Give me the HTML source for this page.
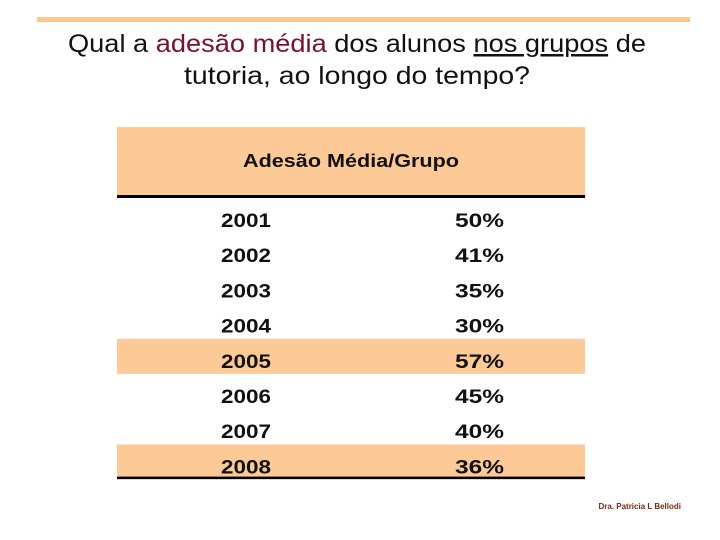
<!DOCTYPE html>
<html><head><meta charset="utf-8"><style>
html,body{margin:0;padding:0;background:#fff;}
svg{display:block;}
text{font-family:"Liberation Sans","DejaVu Sans",sans-serif;}
</style></head><body>
<svg id="s" width="720" height="540" viewBox="0 0 720 540" xmlns="http://www.w3.org/2000/svg">
<rect x="37" y="17" width="653" height="5" fill="#fbc891"/>
<text x="357" y="52" font-size="25" text-anchor="middle" textLength="578" lengthAdjust="spacingAndGlyphs" fill="#111">Qual a <tspan fill="#7a1030">adesão média</tspan> dos alunos <tspan text-decoration="underline">nos grupos</tspan> de</text>
<text x="357" y="84" font-size="25" text-anchor="middle" textLength="346" lengthAdjust="spacingAndGlyphs" fill="#111">tutoria, ao longo do tempo?</text>
<rect x="117" y="127" width="468" height="69" fill="#fdca97"/>
<text x="351" y="167" font-size="18" font-weight="bold" text-anchor="middle" textLength="216" lengthAdjust="spacingAndGlyphs" fill="#111">Adesão Média/Grupo</text>
<rect x="117" y="195" width="468" height="3" fill="#000"/>
<g id="rows"></g>
<text x="681" y="509" font-size="8" text-anchor="end" fill="#7a2a10" font-weight="bold">Dra. Patricia L Bellodi</text>
</svg>
<script>
const years = ["2001","2002","2003","2004","2005","2006","2007","2008"];
const values = [50,41,35,30,57,45,40,36];
const highlighted = [false,false,false,false,true,false,false,true];
const g = document.getElementById('rows');
const NS = "http://www.w3.org/2000/svg";
const rowTop = 202, rowH = 35.2;
years.forEach((y,i)=>{
  const top = rowTop + i*rowH;
  if (highlighted[i]) {
    const r = document.createElementNS(NS,'rect');
    
    
    r.setAttribute('x',117); r.setAttribute('y',top-4); r.setAttribute('width',468); r.setAttribute('height',35);
    r.setAttribute('fill','#fdca97');
    g.appendChild(r);
  }
  const t1 = document.createElementNS(NS,'text');
  
  
  t1.setAttribute('x',221); t1.setAttribute('y',top+25);
  t1.setAttribute('font-size',19); t1.setAttribute('font-weight','bold'); t1.setAttribute('fill','#111');
  t1.setAttribute('textLength',50); t1.setAttribute('lengthAdjust','spacingAndGlyphs');
  t1.textContent = y; g.appendChild(t1);
  const t2 = document.createElementNS(NS,'text');
  
  
  t2.setAttribute('x',455); t2.setAttribute('y',top+25);
  t2.setAttribute('font-size',19); t2.setAttribute('font-weight','bold'); t2.setAttribute('fill','#111');
  t2.setAttribute('textLength',49); t2.setAttribute('lengthAdjust','spacingAndGlyphs');
  t2.textContent = values[i] + '%'; g.appendChild(t2);
});
const bl = document.createElementNS(NS,'rect');


bl.setAttribute('x',117); bl.setAttribute('y',rowTop + years.length*rowH - 7); bl.setAttribute('width',468); bl.setAttribute('height',2.5); bl.setAttribute('fill','#000');
g.appendChild(bl);
</script>
</body></html>
